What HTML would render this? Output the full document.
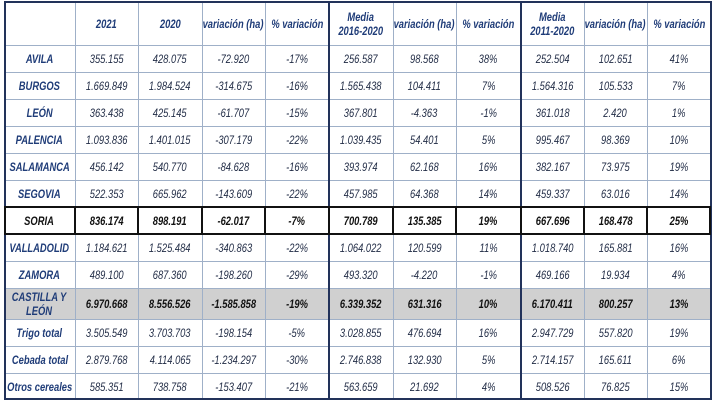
<!DOCTYPE html>
<html><head><meta charset="utf-8"><style>
body{margin:0;width:714px;height:402px;background:#fff;overflow:hidden;font-family:"Liberation Sans",sans-serif;}
#t{position:absolute;left:0;top:0;width:714px;height:402px;}
.c{position:absolute;box-sizing:border-box;display:flex;align-items:center;justify-content:center;text-align:center;font-style:italic;font-size:12px;color:#1f2a44;line-height:14px;white-space:nowrap;}
.c span{display:inline-block;transform:scaleX(0.78);}
.h{color:#1f3c78;font-weight:bold;}
.l{color:#1f3c78;font-weight:bold;}
</style></head><body>
<div id="t"></div>
<script>
const headers=["","2021","2020","variación (ha)","% variación","Media<br>2016-2020","variación (ha)","% variación","Media<br>2011-2020","variación (ha)","% variación"];
const rowLabels=["AVILA","BURGOS","LEÓN","PALENCIA","SALAMANCA","SEGOVIA","SORIA","VALLADOLID","ZAMORA","CASTILLA Y<br>LEÓN","Trigo total","Cebada total","Otros cereales"];
const rowValues=[
["355.155","428.075","-72.920","-17%","256.587","98.568","38%","252.504","102.651","41%"],
["1.669.849","1.984.524","-314.675","-16%","1.565.438","104.411","7%","1.564.316","105.533","7%"],
["363.438","425.145","-61.707","-15%","367.801","-4.363","-1%","361.018","2.420","1%"],
["1.093.836","1.401.015","-307.179","-22%","1.039.435","54.401","5%","995.467","98.369","10%"],
["456.142","540.770","-84.628","-16%","393.974","62.168","16%","382.167","73.975","19%"],
["522.353","665.962","-143.609","-22%","457.985","64.368","14%","459.337","63.016","14%"],
["836.174","898.191","-62.017","-7%","700.789","135.385","19%","667.696","168.478","25%"],
["1.184.621","1.525.484","-340.863","-22%","1.064.022","120.599","11%","1.018.740","165.881","16%"],
["489.100","687.360","-198.260","-29%","493.320","-4.220","-1%","469.166","19.934","4%"],
["6.970.668","8.556.526","-1.585.858","-19%","6.339.352","631.316","10%","6.170.411","800.257","13%"],
["3.505.549","3.703.703","-198.154","-5%","3.028.855","476.694","16%","2.947.729","557.820","19%"],
["2.879.768","4.114.065","-1.234.297","-30%","2.746.838","132.930","5%","2.714.157","165.611","6%"],
["585.351","738.758","-153.407","-21%","563.659","21.692","4%","508.526","76.825","15%"]];
const X=[4,75,138,202,265,329,393,456,521,584,647,711];
const t=document.getElementById('t');
function rowTop(i){return 45+i*27+(i>9?4:0);}
function rowH(i){return i===9?31:27;}
function cell(x,y,w,h,html,cls,name){const d=document.createElement('div');d.className='c '+cls;
d.style.left=x+'px';d.style.top=y+'px';d.style.width=w+'px';d.style.height=h+'px';d.innerHTML='<span>'+html+'</span>';


t.appendChild(d);return d;}
const g=document.createElement('div');g.style.cssText='position:absolute;background:#d0d0d0;left:'+X[0]+'px;top:'+rowTop(9)+'px;width:'+(X[11]-X[0])+'px;height:31px';


t.appendChild(g);
headers.forEach((h,j)=>{cell(X[j],2,X[j+1]-X[j],43,h,'h','header-'+j);});
rowLabels.forEach((lab,i)=>{const y=rowTop(i),h=rowH(i);
 const c=cell(X[0],y,X[1]-X[0],h,lab,'l','row-label');
 if(i===6){c.style.color='#111';}
 rowValues[i].forEach((v,j)=>{const d=cell(X[j+1],y,X[j+2]-X[j+1],h,v,'','value-cell');
  if(i===6||i===9){d.style.fontWeight='bold';d.style.color='#111';}});
});
function line(x,y,w,h,col,name){const d=document.createElement('div');d.style.cssText='position:absolute;left:'+x+'px;top:'+y+'px;width:'+w+'px;height:'+h+'px;background:'+col;


t.appendChild(d);}
for(let i=0;i<=13;i++){const y=i===0?45:(i===13?399:rowTop(i));line(X[0],y,X[11]-X[0],1,'#9fb0c8','row-line');}
for(let j=1;j<11;j++){const thick=(j===5||j===8);line(X[j]-(thick?1:0),2,thick?2:1,397,thick?'#22325a':'#9fb0c8','col-line');}
line(X[0],1,X[11]-X[0],2,'#22325a','border-top');line(X[0],398,X[11]-X[0],2,'#22325a','border-bottom');
line(X[0],1,2,399,'#22325a','border-left');line(X[11]-1,1,2,399,'#22325a','border-right');
const s=document.createElement('div');s.style.cssText='position:absolute;box-sizing:border-box;border:2px solid #111;left:'+X[0]+'px;top:'+(rowTop(6)-1)+'px;width:'+(X[11]-X[0])+'px;height:29px';


t.appendChild(s);
for(let j=1;j<11;j++)line(X[j]-1,rowTop(6),2,27,'#111','soria-col-line');
</script>
</body></html>
